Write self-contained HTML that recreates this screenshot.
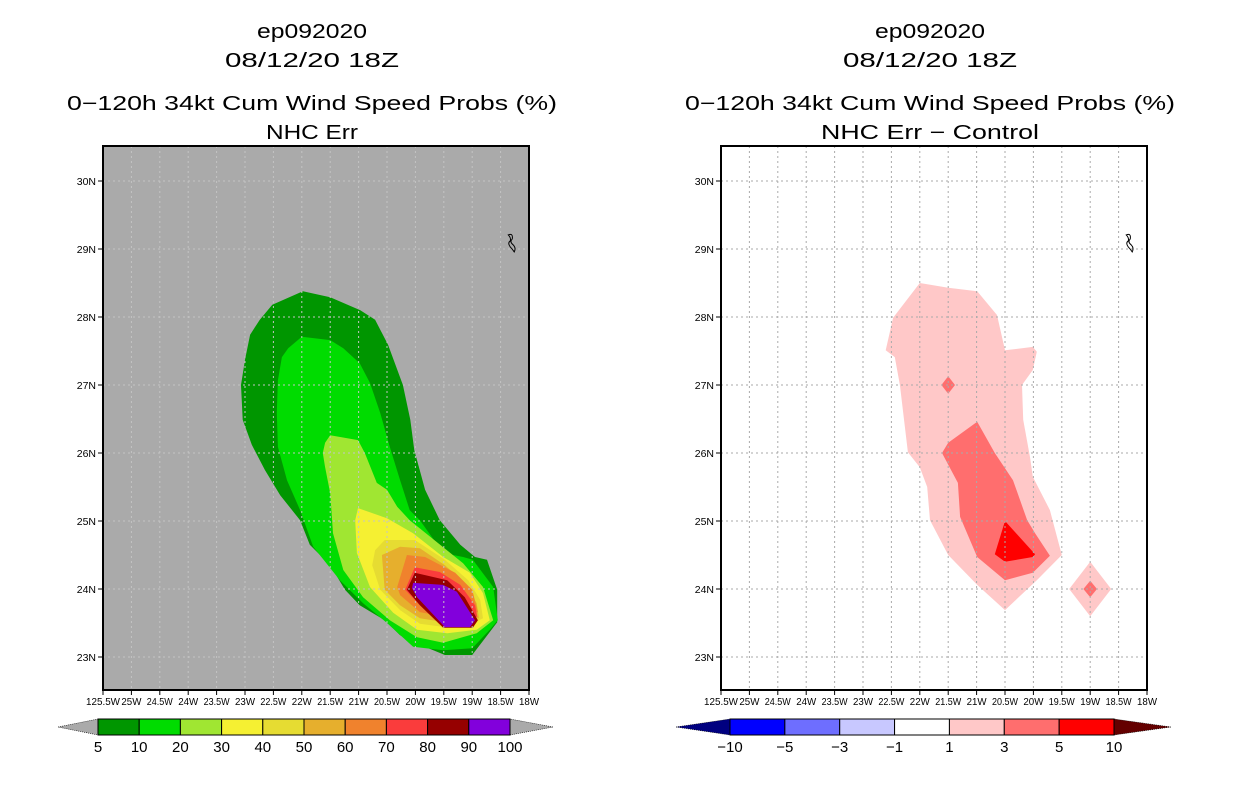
<!DOCTYPE html>
<html><head><meta charset="utf-8"><style>
body{margin:0;background:#fff;}
svg text{font-family:"Liberation Sans",sans-serif;}
</style></head><body>
<svg id="c" width="1236" height="800" xmlns="http://www.w3.org/2000/svg"></svg>
<script>
const lonTicks=[25.5,25,24.5,24,23.5,23,22.5,22,21.5,21,20.5,20,19.5,19,18.5,18];
const lonLabels=["125.5W","25W","24.5W","24W","23.5W","23W","22.5W","22W","21.5W","21W","20.5W","20W","19.5W","19W","18.5W","18W"];
const latTicks=[23,24,25,26,27,28,29,30];
const leftLevels=["5","10","20","30","40","50","60","70","80","90","100"];
const leftColors=["#009600","#00dc00","#a0e632","#f5f032","#e6dc32","#e6af2d","#f0822d","#fa3c3c","#960000","#8200dc"];
const rightLevels=["−10","−5","−3","−1","1","3","5","10"];
const rightColors=["#0000ff","#6e6eff","#c8c8ff","#ffffff","#ffc8c8","#ff6e6e","#ff0000"];
// contour polygons [lonW, lat]
const p5=[[21.98,28.38],[21.5,28.29],[20.97,28.1],[20.71,27.96],[20.48,27.59],[20.22,27.0],[20.09,26.49],[20.02,26.04],[19.83,25.46],[19.57,25.01],[19.21,24.65],[18.95,24.47],[18.74,24.43],[18.56,23.99],[18.56,23.51],[19.0,23.03],[19.48,23.03],[19.92,23.18],[20.27,23.32],[20.54,23.54],[20.98,23.76],[21.24,23.99],[21.5,24.35],[21.86,24.65],[22.03,25.01],[22.38,25.38],[22.65,25.75],[22.88,26.12],[23.04,26.49],[23.07,27.0],[23.0,27.37],[22.91,27.74],[22.74,27.96],[22.52,28.18]];
const p10=[[22.0,27.71],[21.5,27.66],[21.27,27.54],[20.98,27.32],[20.8,27.03],[20.62,26.59],[20.45,26.09],[20.27,25.6],[20.1,25.16],[19.92,25.01],[19.51,24.53],[19.16,24.47],[18.99,24.43],[18.63,24.03],[18.55,23.54],[18.69,23.4],[19.0,23.13],[19.51,23.1],[20.04,23.15],[20.5,23.5],[20.92,23.79],[21.33,24.13],[21.8,24.62],[22.03,25.16],[22.26,25.6],[22.42,26.09],[22.44,26.59],[22.42,27.07],[22.35,27.41],[22.24,27.54]];
const p20=[[21.5,26.26],[21.01,26.19],[20.89,26.0],[20.68,25.56],[20.5,25.46],[20.32,25.21],[20.1,25.01],[19.16,24.38],[18.81,24.03],[18.63,23.54],[18.92,23.35],[19.51,23.21],[19.97,23.29],[20.45,23.54],[20.92,23.88],[21.27,24.28],[21.45,24.82],[21.5,25.41],[21.59,25.79],[21.63,26.0],[21.59,26.15]];
const p30=[[21.01,25.19],[20.5,25.04],[20.04,24.82],[19.51,24.47],[19.04,24.24],[18.81,23.94],[18.69,23.54],[18.92,23.4],[19.44,23.35],[19.97,23.4],[20.39,23.65],[20.8,24.03],[21.03,24.53],[21.06,25.01]];
const p40=[[20.54,24.72],[20.01,24.72],[19.48,24.43],[19.07,24.13],[18.86,23.84],[18.81,23.57],[19.04,23.47],[19.48,23.44],[19.92,23.49],[20.27,23.69],[20.62,23.99],[20.76,24.35],[20.71,24.57]];
const p50=[[20.27,24.62],[19.92,24.6],[19.48,24.35],[19.13,24.09],[18.92,23.79],[18.88,23.57],[19.48,23.51],[19.92,23.57],[20.27,23.76],[20.54,23.99],[20.59,24.5]];
const p60=[[20.15,24.5],[19.83,24.47],[19.3,24.24],[19.0,23.99],[18.9,23.66],[19.48,23.59],[19.92,23.66],[20.27,23.91],[20.32,24.03]];
const p70=[[20.01,24.32],[19.57,24.25],[19.21,24.06],[18.95,23.76],[18.91,23.59],[19.48,23.6],[19.92,23.76],[20.18,23.99]];
const p80=[[20.01,24.24],[19.44,24.13],[19.13,23.88],[18.9,23.54],[18.99,23.43],[19.51,23.43],[19.92,23.76],[20.15,23.99]];
const p90=[[20.04,24.09],[19.51,24.06],[19.27,23.96],[18.95,23.54],[19.04,23.44],[19.48,23.44],[19.97,23.88],[20.06,24.01]];
const d1=[[22.0,28.5],[21.5,28.43],[20.99,28.38],[20.64,28.03],[20.5,27.51],[20.01,27.56],[19.94,27.49],[20.01,27.22],[20.2,27.0],[20.18,26.49],[20.06,25.94],[20.01,25.65],[19.71,25.16],[19.5,24.5],[19.94,24.13],[20.5,23.69],[20.99,24.06],[21.5,24.5],[21.82,25.01],[21.87,25.5],[22.0,25.79],[22.21,26.01],[22.35,27.0],[22.44,27.41],[22.6,27.51],[22.47,27.99]];
const d1b=[[19.0,24.4],[18.63,24.0],[19.0,23.6],[19.37,24.0]];
const d3=[[20.99,26.46],[20.68,26.0],[20.36,25.6],[20.11,25.01],[19.97,24.82],[19.71,24.49],[20.01,24.24],[20.5,24.13],[20.99,24.47],[21.29,25.06],[21.33,25.56],[21.61,26.0],[21.5,26.15]];
const d3b=[[21.5,27.13],[21.38,27.0],[21.5,26.87],[21.62,27.0]];
const d3c=[[19.0,24.12],[18.88,24.0],[19.0,23.88],[19.12,24.0]];
const d5=[[20.5,25.0],[19.97,24.51],[20.01,24.47],[20.5,24.4],[20.68,24.51]];

const NS="http://www.w3.org/2000/svg";
const svg=document.getElementById('c');
function mk(tag,attrs,parent){const e=document.createElementNS(NS,tag);for(const k in attrs)e.setAttribute(k,attrs[k]);(parent||svg).appendChild(e);return e;}
function txt(x,y,s,size,anchor,parent){const t=mk('text',{x:x,y:y,'font-size':size,'text-anchor':anchor||'middle',fill:'#000'},parent);t.textContent=s;return t;}
const W=426,H=544,TOP=146;
function xs(x0,lon){return x0+(25.5-lon)/7.5*W;}
function ys(lat){return 181+(30-lat)*68;}

function panel(x0,bg,polys,gridColor,t3,t3len,name){
  const g=mk('g',{});
  
  
  const bgR=mk('rect',{x:x0,y:TOP,width:W,height:H,fill:bg},g);
  
  
  polys.forEach(([pts,col],i)=>{
    const p=mk('polygon',{points:pts.map(q=>xs(x0,q[0]).toFixed(1)+','+ys(q[1]).toFixed(1)).join(' '),fill:col},g);
    
    
  });
  lonTicks.forEach(l=>{const x=xs(x0,l);mk('line',{x1:x,x2:x,y1:TOP,y2:TOP+H,stroke:gridColor,'stroke-dasharray':'2,3','stroke-width':1},g);});
  latTicks.forEach(l=>{const y=ys(l);mk('line',{x1:x0,x2:x0+W,y1:y,y2:y,stroke:gridColor,'stroke-dasharray':'2,3','stroke-width':1},g);});
  const cx=xs(x0,18.33),cy=ys(29.06);
  const isl=mk('path',{d:`M${cx-2},${cy-10} q5,-2 4,4 q-3,3 1,6 q3,3 1,7 q-2,-3 -4,-5 q-3,-4 0,-6 q1,-3 -2,-6z`,fill:'none',stroke:'#000','stroke-width':1},g);
  
  
  const fr=mk('rect',{x:x0,y:TOP,width:W,height:H,fill:'none',stroke:'#000','stroke-width':2},g);
  
  
  lonTicks.forEach((l,i)=>{const x=xs(x0,l);mk('line',{x1:x,x2:x,y1:TOP+H,y2:TOP+H+5,stroke:'#000'},g);
    const t=txt(x,TOP+H+15,lonLabels[i],10.5,'middle',g);t.setAttribute('textLength',i==0?34:(lonLabels[i].length>3?26:20));t.setAttribute('lengthAdjust','spacingAndGlyphs');});
  latTicks.forEach(l=>{const y=ys(l);mk('line',{x1:x0-5,x2:x0,y1:y,y2:y,stroke:'#000'},g);
    const t=txt(x0-7,y+4,l+'N',10.5,'end',g);});
  const cxm=x0+W/2-4;
  [['ep092020',38,'storm-id',110],['08/12/20 18Z',67,'date-title',174],['0−120h 34kt Cum Wind Speed Probs (%)',110,'main-title',490],[t3,139,'subtitle',t3len]].forEach(([s,y,n,len])=>{
    const t=txt(cxm,y,s,20,'middle',g);t.setAttribute('textLength',len);t.setAttribute('lengthAdjust','spacingAndGlyphs');});
}
panel(103,'#aaaaaa',[[p5,leftColors[0]],[p10,leftColors[1]],[p20,leftColors[2]],[p30,leftColors[3]],[p40,leftColors[4]],[p50,leftColors[5]],[p60,leftColors[6]],[p70,leftColors[7]],[p80,leftColors[8]],[p90,leftColors[9]]],'#c4c4c4','NHC Err',92,'left-panel');
panel(721,'#ffffff',[[d1,rightColors[4]],[d1b,rightColors[4]],[d3,rightColors[5]],[d3b,rightColors[5]],[d3c,rightColors[5]],[d5,rightColors[6]]],'#aaaaaa','NHC Err − Control',218,'right-panel');

function colorbar(x0,x1,bx0,bx1,colors,levels,leftTri,rightTri,name){
  const g=mk('g',{});
  
  
  const y0=719,y1=735,ym=727;
  mk('polygon',{points:`${x0},${ym} ${bx0},${y0} ${bx0},${y1}`,fill:leftTri,stroke:'#000','stroke-dasharray':'1,1','stroke-width':0.6},g);
  mk('polygon',{points:`${x1},${ym} ${bx1},${y0} ${bx1},${y1}`,fill:rightTri,stroke:'#000','stroke-dasharray':'1,1','stroke-width':0.6},g);
  const bw=(bx1-bx0)/colors.length;
  colors.forEach((c,i)=>{const r=mk('rect',{x:bx0+i*bw,y:y0,width:bw,height:y1-y0,fill:c,stroke:'#000','stroke-width':1},g);
    });
  levels.forEach((s,i)=>{const t=txt(bx0+i*bw,752,s,15,'middle',g);});
}
colorbar(58,553,98,510,leftColors,leftLevels,'#aaaaaa','#aaaaaa','left-colorbar');
colorbar(676,1171,730,1114,rightColors,rightLevels,'#000080','#640000','right-colorbar');
</script>
</body></html>
